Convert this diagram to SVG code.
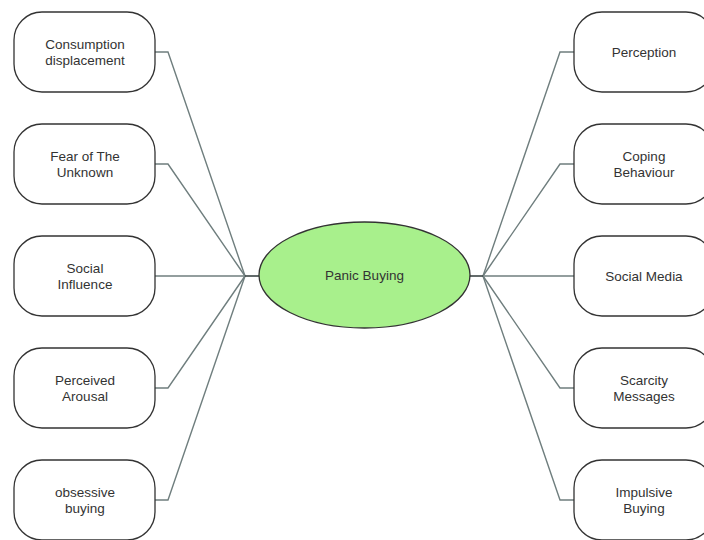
<svg xmlns="http://www.w3.org/2000/svg" width="704" height="540" viewBox="0 0 704 540">
<style>
.node rect{fill:#fff;stroke:#333;stroke-width:1.3}
.node text,.center text{font-family:"Liberation Sans",Arial,sans-serif;font-size:13.5px;fill:#333;text-anchor:middle}
.conn path{fill:none;stroke:#6f7e7e;stroke-width:1.4}
.conn .hub{stroke:#3a4444;stroke-width:1.6}
</style>
<rect width="704" height="540" fill="#fff"/>
<g id="connectors" class="conn">
<path d="M155,52 H168 L245,276"/>
<path d="M155,164 H168 L245,276"/>
<path d="M155,276 H245"/>
<path d="M155,388 H168 L245,276"/>
<path d="M155,500 H168 L245,276"/>
<path class="hub" d="M245,276 H260"/>
<path d="M574,52 H560 L483,276"/>
<path d="M574,164 H560 L483,276"/>
<path d="M574,276 H483"/>
<path d="M574,388 H560 L483,276"/>
<path d="M574,500 H560 L483,276"/>
<path class="hub" d="M469,276 H483"/>
</g>
<g id="panic-buying" class="center">
<ellipse cx="364.5" cy="275" rx="105.5" ry="53" fill="#a8f08c" stroke="#333" stroke-width="1.3"/>
<text x="364.5" y="280">Panic Buying</text>
</g>
<g id="consumption-displacement" class="node">
<rect x="14" y="12" width="141" height="80" rx="28"/>
<text x="85" y="49">Consumption</text><text x="85" y="65">displacement</text>
</g>
<g id="fear-of-the-unknown" class="node">
<rect x="14" y="124" width="141" height="80" rx="28"/>
<text x="85" y="161">Fear of The</text><text x="85" y="177">Unknown</text>
</g>
<g id="social-influence" class="node">
<rect x="14" y="236" width="141" height="80" rx="28"/>
<text x="85" y="273">Social</text><text x="85" y="289">Influence</text>
</g>
<g id="perceived-arousal" class="node">
<rect x="14" y="348" width="141" height="80" rx="28"/>
<text x="85" y="385">Perceived</text><text x="85" y="401">Arousal</text>
</g>
<g id="obsessive-buying" class="node">
<rect x="14" y="460" width="141" height="80" rx="28"/>
<text x="85" y="497">obsessive</text><text x="85" y="513">buying</text>
</g>
<g id="perception" class="node">
<rect x="574" y="12" width="140" height="80" rx="28"/>
<text x="644" y="57">Perception</text>
</g>
<g id="coping-behaviour" class="node">
<rect x="574" y="124" width="140" height="80" rx="28"/>
<text x="644" y="161">Coping</text><text x="644" y="177">Behaviour</text>
</g>
<g id="social-media" class="node">
<rect x="574" y="236" width="140" height="80" rx="28"/>
<text x="644" y="281">Social Media</text>
</g>
<g id="scarcity-messages" class="node">
<rect x="574" y="348" width="140" height="80" rx="28"/>
<text x="644" y="385">Scarcity</text><text x="644" y="401">Messages</text>
</g>
<g id="impulsive-buying" class="node">
<rect x="574" y="460" width="140" height="80" rx="28"/>
<text x="644" y="497">Impulsive</text><text x="644" y="513">Buying</text>
</g>
</svg>
